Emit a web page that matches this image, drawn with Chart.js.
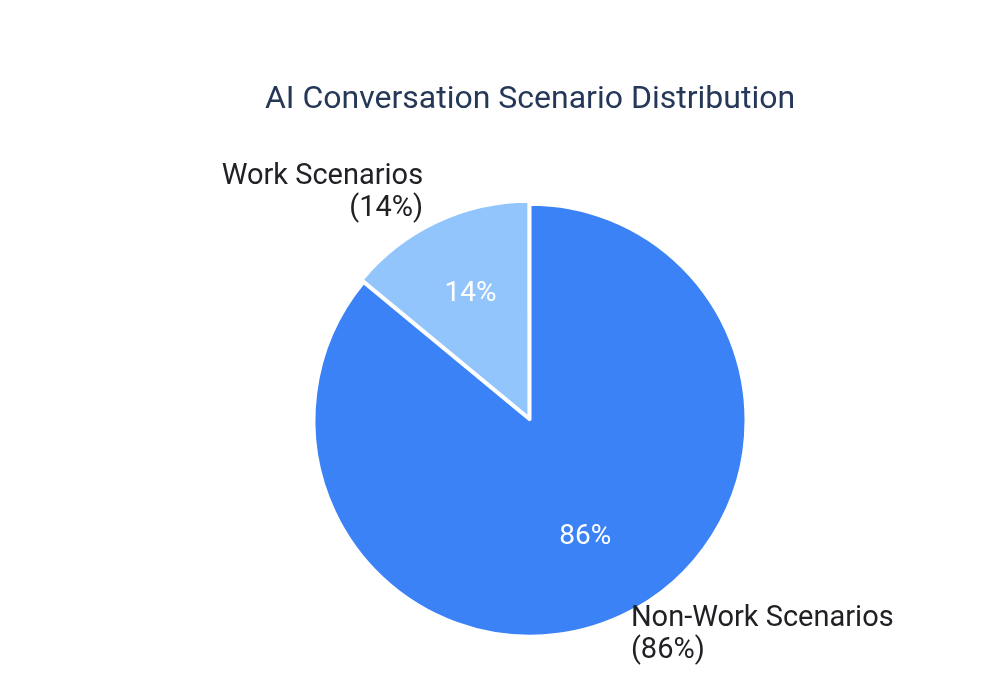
<!DOCTYPE html>
<html>
<head>
<meta charset="utf-8">
<script src="https://cdn.jsdelivr.net/npm/chart.js@4.4.1/dist/chart.umd.min.js"></script>
<style>
    html, body { margin: 0; padding: 0; background: #ffffff; }
    #wrap { width: 1000px; height: 699px; }
</style>
</head>
<body>
<div id="wrap"><canvas id="scenario-chart"></canvas></div>
<script>
const categories = ['Non-Work Scenarios', 'Work Scenarios'];
const shares = [86, 14];
const sliceColors = ['#3b82f6', '#93c5fd'];
const sliceOffsets = [0, 10];
// distance of the outside label from the rim
const labelGaps = [21, 25];

const sliceLabels = {
    id: 'sliceLabels',
    afterDatasetsDraw(chart) {
        const ctx = chart.ctx;
        const arcs = chart.getDatasetMeta(0).data;
        ctx.save();
        arcs.forEach((arc, i) => {
            const { x, y, startAngle, endAngle, outerRadius } = arc.getProps(['x', 'y', 'startAngle', 'endAngle', 'outerRadius'], true);
            const mid = (startAngle + endAngle) / 2;
            const cos = Math.cos(mid), sin = Math.sin(mid);
            const cx = x + cos * sliceOffsets[i];
            const cy = y + sin * sliceOffsets[i];

            // value inside the slice
            ctx.fillStyle = '#ffffff';
            ctx.font = '28px Roboto';
            ctx.textAlign = 'center';
            ctx.textBaseline = 'middle';
            ctx.fillText(shares[i] + '%', cx + cos * outerRadius * 0.6, cy + sin * outerRadius * 0.6);

            // category outside the slice
            const d = outerRadius + labelGaps[i];
            const lx = cx + cos * d;
            const ly = cy + sin * d;
            ctx.fillStyle = '#202124';
            ctx.font = '29px Roboto';
            ctx.textAlign = cos < 0 ? 'right' : 'left';
            ctx.fillText(categories[i], lx, ly - 16);
            ctx.fillText('(' + shares[i] + '%)', lx, ly + 16);
        });
        ctx.restore();
    }
};

new Chart(document.getElementById('scenario-chart'), {
    type: 'pie',
    data: {
        labels: categories,
        datasets: [{
            data: shares,
            backgroundColor: sliceColors,
            borderColor: '#ffffff',
            borderWidth: 3,
            offset: sliceOffsets
        }]
    },
    options: {
        responsive: true,
        maintainAspectRatio: false,
        animation: false,
        radius: 216,
        layout: { padding: { left: 60, right: 0, top: 0, bottom: 0 } },
        plugins: {
            legend: { display: false },
            tooltip: { enabled: false },
            title: {
                display: true,
                text: 'AI Conversation Scenario Distribution',
                color: '#253858',
                font: { family: 'Roboto', size: 32, weight: 'normal' },
                padding: { top: 81, bottom: 22 }
            }
        }
    },
    plugins: [sliceLabels]
});
</script>
</body>
</html>
